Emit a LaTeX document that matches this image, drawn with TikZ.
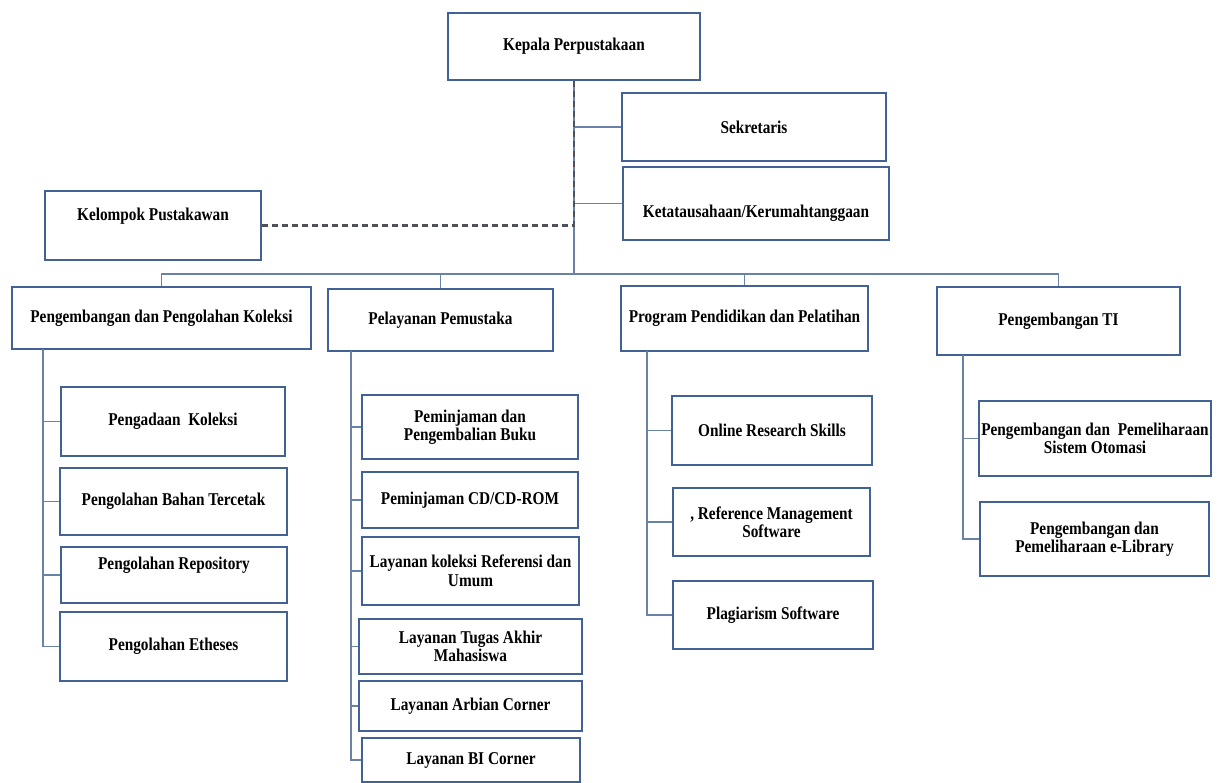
\documentclass[tikz,border=0pt]{standalone}
\usepackage{fontspec}
\setmainfont{Liberation Serif}[FakeStretch=0.85]
\definecolor{boxblue}{RGB}{66,98,150}
\definecolor{connblue}{RGB}{105,130,168}
\definecolor{dashgray}{RGB}{80,80,88}
\tikzset{
  orgbox/.style={draw=boxblue, line width=2.5pt, fill=white, inner sep=0pt, align=center,
    font=\fontsize{18}{18.5}\selectfont\bfseries},
  txtonly/.style={inner sep=0pt, align=center, font=\fontsize{18}{18.5}\selectfont\bfseries},
  conn/.style={draw=connblue, line width=1.6pt},
  dashconn/.style={draw=dashgray, line width=2.1pt, dash pattern=on 6pt off 4pt},
}
\begin{document}
\begin{tikzpicture}[x=1pt,y=-1pt]
\fill[white] (0,0) rectangle (1222,783);
\useasboundingbox (0,0) rectangle (1222,783);

% top level
\node[orgbox, minimum width=252pt, minimum height=67pt] (kepala) at (574,46.5) {Kepala Perpustakaan};
\node[orgbox, minimum width=264pt, minimum height=68pt] (sekretaris) at (754,127) {Sekretaris};
\node[orgbox, minimum width=266pt, minimum height=73pt,
  label={[txtonly, yshift=-9.5pt]center:Ketatausahaan/Kerumahtanggaan}] (ketata) at (756,203.5) {};
\node[orgbox, minimum width=216pt, minimum height=69pt,
  label={[txtonly, yshift=9.5pt]center:Kelompok Pustakawan}] (kelompok) at (153,225.5) {};

% second level
\node[orgbox, minimum width=299pt, minimum height=62pt] (ppk) at (161.5,318) {Pengembangan dan Pengolahan Koleksi};
\node[orgbox, minimum width=225pt, minimum height=62pt] (pel) at (440.5,320) {Pelayanan Pemustaka};
\node[orgbox, minimum width=247pt, minimum height=65pt] (prog) at (744.5,318.5) {Program Pendidikan dan Pelatihan};
\node[orgbox, minimum width=243pt, minimum height=68pt] (ti) at (1058.5,321) {Pengembangan TI};

% column 1
\node[orgbox, minimum width=224pt, minimum height=69pt] (pengadaan) at (173,421.5) {Pengadaan\ \ Koleksi};
\node[orgbox, minimum width=227pt, minimum height=67pt] (bahan) at (173.5,501.5) {Pengolahan Bahan Tercetak};
\node[orgbox, minimum width=226pt, minimum height=56pt,
  label={[txtonly, yshift=10pt]center:Pengolahan Repository}] (repo) at (174,575) {};
\node[orgbox, minimum width=227pt, minimum height=69pt] (etheses) at (173.5,646.5) {Pengolahan Etheses};

% column 2
\node[orgbox, minimum width=216pt, minimum height=64pt] (pinjam) at (470,427) {Peminjaman dan\\Pengembalian Buku};
\node[orgbox, minimum width=216pt, minimum height=56pt] (cdrom) at (470,500) {Peminjaman CD/CD-ROM};
\node[orgbox, minimum width=217pt, minimum height=68pt] (koleksiref) at (470.5,571) {Layanan koleksi Referensi dan\\Umum};
\node[orgbox, minimum width=223pt, minimum height=55pt] (tugas) at (470.5,646.5) {Layanan Tugas Akhir\\Mahasiswa};
\node[orgbox, minimum width=223pt, minimum height=50pt] (arbian) at (470.5,706) {Layanan Arbian Corner};
\node[orgbox, minimum width=218pt, minimum height=44pt] (bicorner) at (471,760) {Layanan BI Corner};

% column 3
\node[orgbox, minimum width=200pt, minimum height=69pt] (online) at (772,430.5) {Online Research Skills};
\node[orgbox, minimum width=197pt, minimum height=68pt] (refmgmt) at (771.5,522) {, Reference Management\\Software};
\node[orgbox, minimum width=200pt, minimum height=68pt] (plag) at (773,615) {Plagiarism Software};

% column 4
\node[orgbox, minimum width=232pt, minimum height=75pt] (otomasi) at (1095,438.5) {Pengembangan dan\ \ Pemeliharaan\\Sistem Otomasi};
\node[orgbox, minimum width=229pt, minimum height=74pt] (elib) at (1094.5,539) {Pengembangan dan\\Pemeliharaan e-Library};

% connectors
\coordinate (bus) at (574,274);
\draw[conn] (kepala.south) -- (bus);
\draw[conn] (sekretaris.west) -- (sekretaris.west -| kepala.south);
\draw[conn] (ketata.west) -- (ketata.west -| kepala.south);
\draw[dashconn] (kelompok.east) -| (kepala.south);
\draw[conn] (bus) -| (ppk.north);
\draw[conn] (bus) -| (pel.north);
\draw[conn] (bus) -| (prog.north);
\draw[conn] (bus) -| (ti.north);

\coordinate (sL) at (43,349);
\draw[conn] (sL) |- (pengadaan.west);
\draw[conn] (sL) |- (bahan.west);
\draw[conn] (sL) |- (repo.west);
\draw[conn] (sL) |- (etheses.west);

\coordinate (sP) at (351,351);
\draw[conn] (sP) |- (pinjam.west);
\draw[conn] (sP) |- (cdrom.west);
\draw[conn] (sP) |- (koleksiref.west);
\draw[conn] (sP) |- (tugas.west);
\draw[conn] (sP) |- (arbian.west);
\draw[conn] (sP) |- (bicorner.west);

\coordinate (sG) at (647,351);
\draw[conn] (sG) |- (online.west);
\draw[conn] (sG) |- (refmgmt.west);
\draw[conn] (sG) |- (plag.west);

\coordinate (sT) at (963,355);
\draw[conn] (sT) |- (otomasi.west);
\draw[conn] (sT) |- (elib.west);
\end{tikzpicture}
\end{document}
